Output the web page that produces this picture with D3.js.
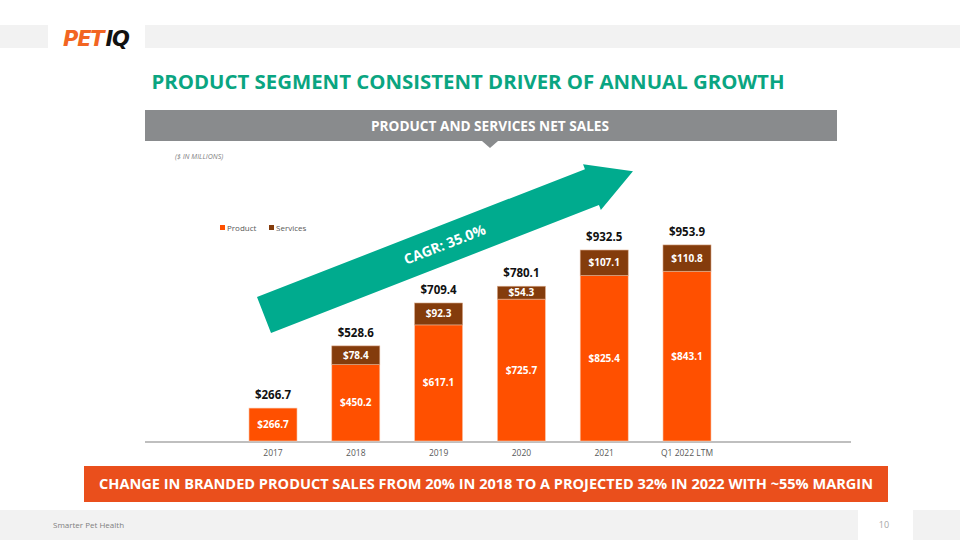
<!DOCTYPE html>
<html>
<head>
<meta charset="utf-8">
<script src="https://cdn.jsdelivr.net/npm/d3@7"></script>
<style>
  html, body { margin: 0; padding: 0; background: #fff; }
  svg { display: block; font-family: "Open Sans", "Liberation Sans", sans-serif; }
</style>
</head>
<body>
<svg id="chart" width="960" height="540"></svg>
<script>
// ---- data ----
const categories = ["2017", "2018", "2019", "2020", "2021", "Q1 2022 LTM"];
const productValues = [266.7, 450.2, 617.1, 725.7, 825.4, 843.1];
const servicesValues = [0, 78.4, 92.3, 54.3, 107.1, 110.8];
const totalValues = [266.7, 528.6, 709.4, 780.1, 932.5, 953.9];
const seriesNames = ["Product", "Services"];
const cagrLabel = "CAGR: 35.0%";

const titleText = "PRODUCT SEGMENT CONSISTENT DRIVER OF ANNUAL GROWTH";
const headerText = "PRODUCT AND SERVICES NET SALES";
const unitText = "($ IN MILLIONS)";
const bannerText = "CHANGE IN BRANDED PRODUCT SALES FROM 20% IN 2018 TO A PROJECTED 32% IN 2022 WITH ~55% MARGIN";
const footerText = "Smarter Pet Health";
const pageNumber = "10";

// ---- styles ----
const colProduct = "#FF5000";
const colServices = "#843C0C";
const colGreen = "#00AB8E";
const colTitle = "#0AA581";

const svg = d3.select("#chart");

// top band
svg.append("rect").attr("x", 0).attr("y", 25).attr("width", 960).attr("height", 23).attr("fill", "#f2f2f2");
svg.append("rect").attr("x", 48).attr("y", 25).attr("width", 97).attr("height", 23).attr("fill", "#fff");
// logo
const logo = svg.append("text").attr("x", 63).attr("y", 46)
  .attr("font-family", "'DejaVu Sans', sans-serif").attr("font-weight", 900)
  .attr("font-style", "italic").attr("font-size", 21).attr("letter-spacing", -1.2);
logo.append("tspan").attr("fill", "#F26522").text("PET");
logo.append("tspan").attr("fill", "#111").attr("dx", 2).text("IQ");

// title
svg.append("text").attr("x", 468).attr("y", 89).attr("text-anchor", "middle")
  .attr("font-size", 19.5).attr("font-weight", 700).attr("fill", colTitle)
  .attr("textLength", 633).attr("lengthAdjust", "spacingAndGlyphs")
  .text(titleText);

// header bar
svg.append("rect").attr("x", 145).attr("y", 110).attr("width", 692).attr("height", 31).attr("fill", "#898B8D");
svg.append("path").attr("d", "M482,141 L498,141 L490,148 Z").attr("fill", "#898B8D");
svg.append("text").attr("x", 490).attr("y", 131).attr("text-anchor", "middle")
  .attr("font-size", 13.5).attr("font-weight", 700).attr("fill", "#fff")
  .attr("textLength", 238).attr("lengthAdjust", "spacingAndGlyphs")
  .text(headerText);

svg.append("text").attr("x", 175).attr("y", 159).attr("font-size", 7)
  .attr("font-style", "italic").attr("fill", "#7f7f7f").text(unitText);

// ---- scales ----
const x = d3.scaleBand().domain(categories).range([231.6, 728.4]).paddingInner(0.42).paddingOuter(0.21);
const y = d3.scaleLinear().domain([128, 1000]).range([441, 234]);
const base = y.domain()[0];

// arrow (decoration)
(function () {
  const sx = 264, sy = 315, ang = -21.3 * Math.PI / 180;
  const ux = Math.cos(ang), uy = Math.sin(ang);
  const px = -uy, py = ux;
  const hw = 19.3, headHW = 24.5, headAt = 352, tipAt = 396;
  const P = (s, o) => [sx + ux * s + px * o, sy + uy * s + py * o];
  const pts = [P(0, -hw), P(headAt, -hw), P(headAt, -headHW), P(tipAt, 0), P(headAt, headHW), P(headAt, hw), P(0, hw)];
  svg.append("path").attr("d", "M" + pts.map(p => p.join(",")).join("L") + "Z").attr("fill", colGreen);
  const c = P(194, 0);
  svg.append("text").attr("transform", `translate(${c[0]},${c[1]}) rotate(-21.3)`)
    .attr("text-anchor", "middle").attr("dy", "0.35em")
    .attr("font-size", 14).attr("font-weight", 700).attr("fill", "#fff")
    .text(cagrLabel);
})();

// legend
const legend = svg.append("g");
[220, 269].forEach((lx, i) => {
  legend.append("rect").attr("x", lx).attr("y", 225).attr("width", 5).attr("height", 5)
    .attr("fill", i === 0 ? colProduct : colServices);
  legend.append("text").attr("x", lx + 7).attr("y", 230.5).attr("font-size", 8)
    .attr("fill", "#595959").text(seriesNames[i]);
});

// axis baseline
svg.append("line").attr("x1", 145).attr("x2", 851).attr("y1", 442).attr("y2", 442)
  .attr("stroke", "#bfbfbf").attr("stroke-width", 2);

// bars
const g = svg.append("g");
categories.forEach((c, i) => {
  const bx = x(c), bw = x.bandwidth();
  const yp = y(productValues[i]);
  g.append("rect").attr("x", bx).attr("y", yp).attr("width", bw).attr("height", y(base) - yp)
    .attr("fill", colProduct).attr("stroke", "#f9c9ad").attr("stroke-width", 0.6);
  g.append("text").attr("x", bx + bw / 2).attr("y", (yp + y(base)) / 2).attr("dy", "0.35em")
    .attr("text-anchor", "middle").attr("font-size", 10).attr("font-weight", 700).attr("fill", "#fff")
    .text("$" + d3.format(".1f")(productValues[i]));
  let top = yp;
  if (servicesValues[i] > 0) {
    const ys = y(productValues[i] + servicesValues[i]);
    g.append("rect").attr("x", bx).attr("y", ys).attr("width", bw).attr("height", yp - ys)
      .attr("fill", colServices).attr("stroke", "#d9a98a").attr("stroke-width", 0.6);
    g.append("text").attr("x", bx + bw / 2).attr("y", (ys + yp) / 2).attr("dy", "0.35em")
      .attr("text-anchor", "middle").attr("font-size", 10).attr("font-weight", 700).attr("fill", "#fff")
      .text("$" + d3.format(".1f")(servicesValues[i]));
    top = ys;
  }
  g.append("text").attr("x", bx + bw / 2).attr("y", top - 9)
    .attr("text-anchor", "middle").attr("font-size", 11.5).attr("font-weight", 700).attr("fill", "#111")
    .text("$" + d3.format(".1f")(totalValues[i]));
});

// x axis labels
const xAxis = d3.axisBottom(x).tickSize(0).tickPadding(8);
const ax = svg.append("g").attr("transform", "translate(0,442)").call(xAxis);
ax.select(".domain").remove();
ax.selectAll("text").attr("font-size", 8.5).attr("fill", "#595959")
  .attr("font-family", "'Open Sans', sans-serif");

// bottom banner
svg.append("rect").attr("x", 84).attr("y", 466).attr("width", 804).attr("height", 36).attr("fill", "#EA4F1C");
svg.append("text").attr("x", 486).attr("y", 489).attr("text-anchor", "middle")
  .attr("font-size", 14).attr("font-weight", 700).attr("fill", "#fff")
  .attr("textLength", 774).attr("lengthAdjust", "spacingAndGlyphs")
  .text(bannerText);

// footer
svg.append("rect").attr("x", 0).attr("y", 510).attr("width", 858).attr("height", 30).attr("fill", "#f2f2f2");
svg.append("rect").attr("x", 913).attr("y", 510).attr("width", 47).attr("height", 30).attr("fill", "#f2f2f2");
svg.append("text").attr("x", 53).attr("y", 528).attr("font-size", 8).attr("fill", "#7f7f7f").text(footerText);
svg.append("text").attr("x", 884).attr("y", 528).attr("text-anchor", "middle").attr("font-size", 9).attr("fill", "#a6a6a6").text(pageNumber);
</script>
</body>
</html>
